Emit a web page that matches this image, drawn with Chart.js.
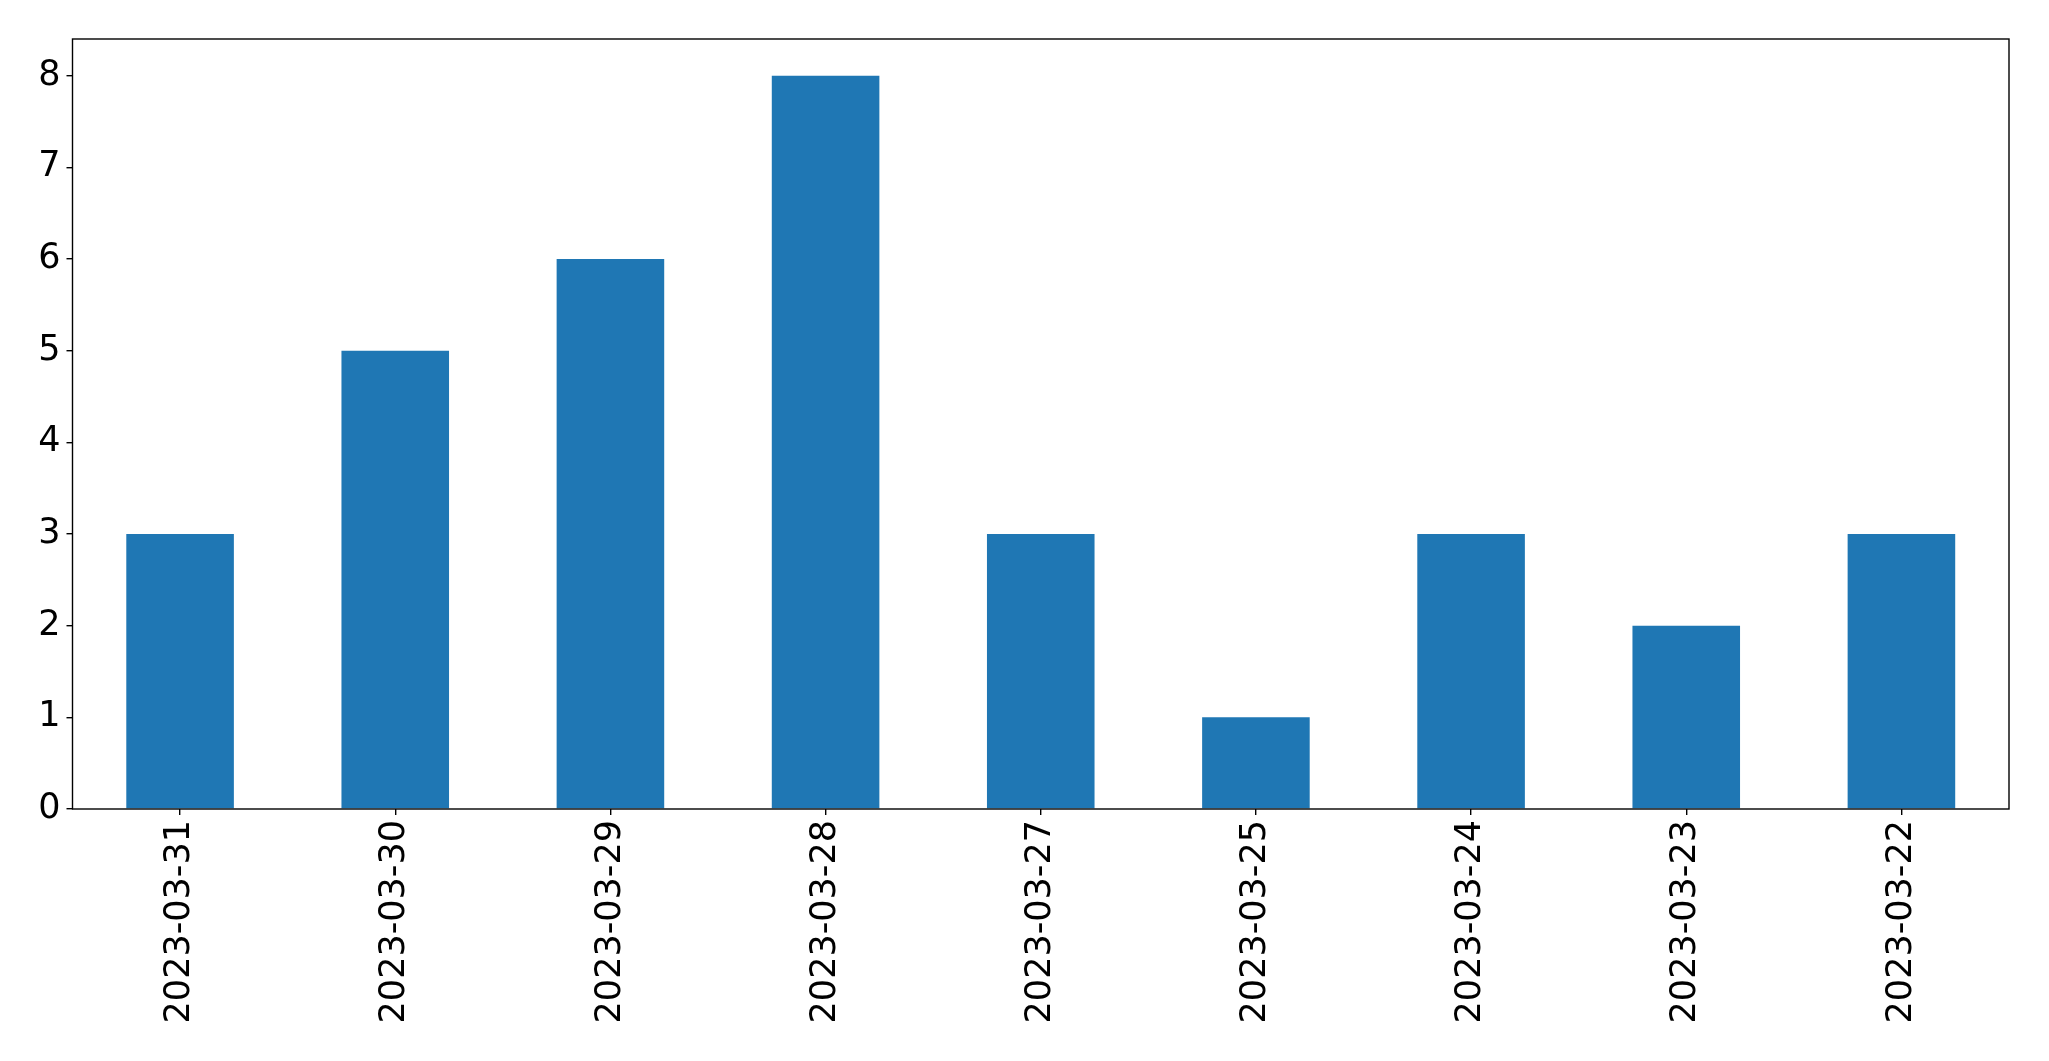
<!DOCTYPE html>
<html>
<head>
<meta charset="utf-8">
<script src="https://cdn.jsdelivr.net/npm/chart.js@4"></script>
<style>
  html, body { margin: 0; padding: 0; background: #fff; }
  #chart { display: block; }
</style>
</head>
<body>
<canvas id="chart" width="2049" height="1061"></canvas>
<script>
var dates = ["2023-03-31", "2023-03-30", "2023-03-29", "2023-03-28", "2023-03-27",
             "2023-03-25", "2023-03-24", "2023-03-23", "2023-03-22"];
var counts = [3, 5, 6, 8, 3, 1, 3, 2, 3];
var yTicks = [0, 1, 2, 3, 4, 5, 6, 7, 8];

// box round the plot area, like matplotlib's spines
var frame = {
  id: 'frame',
  afterDraw: function(chart) {
    var a = chart.chartArea;
    var ctx = chart.ctx;
    ctx.save();
    ctx.strokeStyle = '#000';
    ctx.lineWidth = 1.4;
    ctx.strokeRect(a.left, a.top, a.right - a.left, a.bottom - a.top);
    ctx.restore();
  }
};

var ctx = document.getElementById('chart').getContext('2d');
var chart = new Chart(ctx, {
  type: 'bar',
  data: {
    labels: dates,
    datasets: [{
      data: counts,
      backgroundColor: '#1f77b4',
      borderWidth: 0,
      categoryPercentage: 1.0,
      barPercentage: 0.5
    }]
  },
  options: {
    responsive: false,
    animation: false,
    layout: { padding: { left: 0, top: 39, right: 40, bottom: 0 } },
    plugins: { legend: { display: false }, tooltip: { enabled: false } },
    scales: {
      x: {
        offset: true,
        grid: { display: true, offset: false, drawOnChartArea: false, drawTicks: true, tickLength: 6, color: '#000', lineWidth: 1.4 },
        border: { display: false },
        ticks: {
          color: '#000',
          font: { family: 'DejaVu Sans', size: 35 },
          minRotation: 90,
          maxRotation: 90,
          autoSkip: false,
          padding: 5
        },
        afterFit: function(scale) { scale.height = 252; }
      },
      y: {
        min: 0,
        max: 8.4,
        grid: { display: true, drawOnChartArea: false, drawTicks: true, tickLength: 6, color: '#000', lineWidth: 1.4 },
        border: { display: false },
        ticks: {
          color: '#000',
          font: { family: 'DejaVu Sans', size: 35 },
          padding: 6
        },
        afterBuildTicks: function(scale) {
          scale.ticks = yTicks.map(function(v) { return { value: v }; });
        },
        afterFit: function(scale) { scale.width = 72.5; }
      }
    }
  },
  plugins: [frame]
});
</script>
</body>
</html>
